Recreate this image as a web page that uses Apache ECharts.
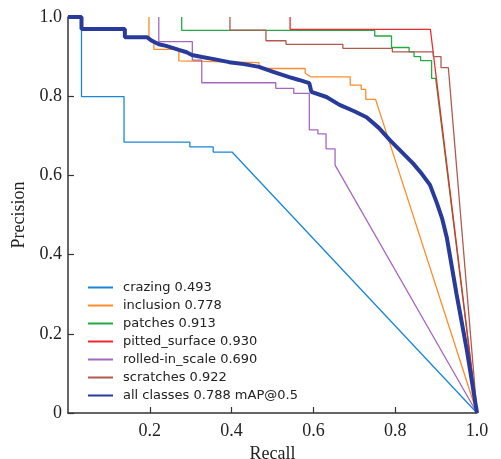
<!DOCTYPE html>
<html>
<head>
<meta charset="utf-8">
<script src="https://cdn.jsdelivr.net/npm/echarts@6/dist/echarts.min.js"></script>
<style>
html,body{margin:0;padding:0;background:#fff;}
#c{width:501px;height:459px;}
</style>
</head>
<body>
<div id="c"></div>
<script>
const seriesNames = ['crazing 0.493','inclusion 0.778','patches 0.913','pitted_surface 0.930','rolled-in_scale 0.690','scratches 0.922','all classes 0.788 mAP@0.5'];
const xTicks = [0, 0.2, 0.4, 0.6, 0.8, 1.0];
const yTicks = [0, 0.2, 0.4, 0.6, 0.8, 1.0];

const crazing = [[0,1.0],[0.033,1.0],[0.033,0.799],[0.137,0.799],[0.137,0.684],[0.298,0.684],[0.298,0.672],[0.355,0.672],[0.355,0.659],[0.401,0.659],[1.0,0.0]];
const inclusion = [[0.198,1.0],[0.198,0.942],[0.21,0.942],[0.21,0.918],[0.271,0.918],[0.271,0.889],[0.467,0.885],[0.467,0.870],[0.58,0.870],[0.58,0.858],[0.593,0.849],[0.69,0.849],[0.69,0.828],[0.717,0.828],[0.717,0.817],[0.728,0.817],[0.728,0.792],[0.752,0.792],[1.0,0.0]];
const patches = [[0.278,1.0],[0.278,0.966],[0.750,0.966],[0.750,0.952],[0.791,0.952],[0.791,0.923],[0.834,0.923],[0.834,0.912],[0.846,0.912],[0.846,0.900],[0.862,0.900],[0.862,0.890],[0.889,0.890],[0.889,0.845],[0.899,0.845],[1.0,0.0]];
const pitted = [[0.543,1.0],[0.543,0.969],[0.886,0.969],[1.0,0.0]];
const rolled = [[0.222,1.0],[0.222,0.938],[0.304,0.938],[0.304,0.891],[0.327,0.891],[0.327,0.834],[0.508,0.834],[0.508,0.820],[0.552,0.820],[0.552,0.807],[0.590,0.807],[0.590,0.715],[0.611,0.715],[0.611,0.705],[0.631,0.705],[0.631,0.667],[0.653,0.667],[0.653,0.626],[1.0,0.0]];
const scratches = [[0.396,1.0],[0.396,0.967],[0.484,0.967],[0.484,0.940],[0.533,0.940],[0.533,0.931],[0.672,0.931],[0.672,0.921],[0.793,0.921],[0.793,0.912],[0.893,0.912],[0.893,0.900],[0.912,0.900],[0.912,0.872],[0.930,0.872],[1.0,0.0]];
const allClasses = [[0,1.0],[0.033,1.0],[0.033,0.970],[0.139,0.970],[0.139,0.949],[0.193,0.949],[0.205,0.940],[0.222,0.931],[0.240,0.927],[0.271,0.917],[0.290,0.911],[0.303,0.904],[0.328,0.899],[0.36,0.893],[0.394,0.886],[0.43,0.881],[0.467,0.874],[0.50,0.862],[0.541,0.848],[0.565,0.841],[0.590,0.833],[0.595,0.811],[0.632,0.798],[0.664,0.778],[0.70,0.762],[0.730,0.747],[0.76,0.720],[0.787,0.689],[0.815,0.660],[0.843,0.631],[0.865,0.604],[0.885,0.576],[0.902,0.530],[0.915,0.490],[0.926,0.444],[0.95,0.300],[0.975,0.160],[1.0,0.0]];

const dataList = [crazing, inclusion, patches, pitted, rolled, scratches, allClasses];
const colors = ['#1a86d8','#ff8c2a','#22aa44','#ee2a2a','#a468c0','#b05a50','#283a9a'];
const widths = [1.3,1.3,1.3,1.3,1.3,1.3,4];

const chart = echarts.init(document.getElementById('c'), null, {renderer:'canvas'});
const serif = 'Liberation Serif';
chart.setOption({
  animation: false,
  backgroundColor: '#fff',
  grid: {left: 68, right: 24, top: 17, bottom: 46, containLabel: false, outerBoundsMode: 'none'},
  legend: {
    orient: 'vertical', left: 82, top: 276,
    itemWidth: 25, itemHeight: 14, itemGap: 5,
    itemStyle: {opacity: 0, borderWidth: 0},
    textStyle: {fontFamily: 'DejaVu Sans', fontSize: 13, color: '#222', padding: [0,0,0,5]},
    data: seriesNames
  },
  xAxis: {
    type: 'value', min: xTicks[0], max: xTicks[xTicks.length-1], interval: 0.2,
    name: 'Recall', nameLocation: 'middle', nameGap: 29,
    nameTextStyle: {fontFamily: serif, fontSize: 18, color: '#222'},
    axisLine: {lineStyle: {color: '#333', width: 1.5}},
    axisTick: {inside: true, length: 6, lineStyle: {color: '#333', width: 1.2}},
    axisLabel: {showMinLabel: false, fontFamily: serif, fontSize: 18, color: '#222', margin: 9,
      formatter: v => v === 0 ? '0' : v.toFixed(1)},
    splitLine: {show: false}
  },
  yAxis: {
    type: 'value', min: yTicks[0], max: yTicks[yTicks.length-1], interval: 0.2,
    name: 'Precision', nameLocation: 'middle', nameGap: 33, nameRotate: 90,
    nameTextStyle: {fontFamily: serif, fontSize: 18, color: '#222'},
    axisLine: {show: true, lineStyle: {color: '#333', width: 1.5}},
    axisTick: {show: true, inside: true, length: 6, lineStyle: {color: '#333', width: 1.2}},
    axisLabel: {fontFamily: serif, fontSize: 18, color: '#222', margin: 6,
      formatter: v => v === 0 ? '0' : v.toFixed(1)},
    splitLine: {show: false}
  },
  series: dataList.map((d, i) => ({
    name: seriesNames[i], type: 'line', data: d, symbol: 'none', showSymbol: false,
    z: i === 6 ? 10 : 2,
    color: colors[i],
    lineStyle: {color: colors[i], width: widths[i]},
    clip: true
  }))
});
</script>
</body>
</html>
